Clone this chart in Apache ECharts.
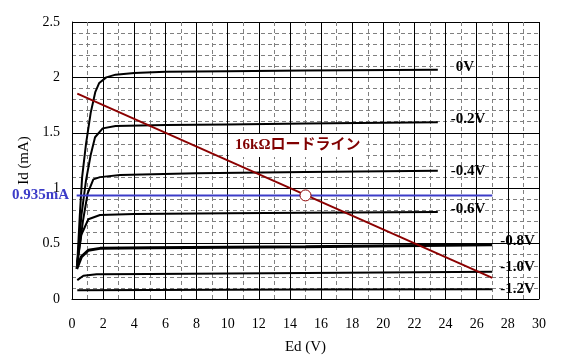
<!DOCTYPE html>
<html>
<head>
<meta charset="utf-8">
<script src="https://cdn.jsdelivr.net/npm/echarts@6/dist/echarts.min.js"></script>
<style>html,body{margin:0;padding:0;background:#fff}#c{width:562px;height:364px}</style>
</head>
<body>
<div id="c"></div>
<script>
// ---- data ----
const curveNames = ['0V', '-0.2V', '-0.4V', '-0.6V', '-0.8V', '-1.0V', '-1.2V'];
const curve0V   = [[0.33,0.3],[0.5,0.75],[0.65,1.1],[0.9,1.4],[1.2,1.68],[1.5,1.87],[1.75,1.95],[2.2,2.0],[2.8,2.025],[4,2.04],[6,2.05],[10,2.055],[15,2.062],[23.5,2.068]];
const curveM02  = [[0.33,0.3],[0.6,0.75],[0.9,1.07],[1.2,1.3],[1.48,1.46],[1.97,1.54],[2.8,1.562],[6,1.57],[10,1.576],[15,1.585],[23.5,1.595]];
const curveM04  = [[0.33,0.3],[0.7,0.7],[1.0,0.95],[1.37,1.08],[1.8,1.10],[3.1,1.12],[8,1.134],[15,1.146],[23.5,1.158]];
const curveM06  = [[0.33,0.33],[0.6,0.58],[1.05,0.72],[1.8,0.758],[4,0.767],[10,0.773],[15,0.779],[23.5,0.785]];
const curveM08  = [[0.3,0.27],[0.6,0.38],[1.05,0.44],[1.8,0.457],[5,0.463],[15,0.472],[27,0.49]];
const curveM10  = [[0.34,0.17],[0.73,0.21],[1.58,0.223],[5,0.226],[15,0.235],[27,0.245]];
const curveM12  = [[0.34,0.08],[5,0.082],[15,0.085],[27,0.088]];
const curves = [curve0V, curveM02, curveM04, curveM06, curveM08, curveM10, curveM12];
const loadLine = [[0.34,1.853],[27,0.19]];
const opCurrent = 0.935;
const opVoltage = 15;
const biasLine = [[0.3,opCurrent],[27,opCurrent]];
const loadLineText = '16kΩロードライン';
const loadLineTextAt = [14.5, 1.385];
const opText = '0.935mA';

// ---- styling ----
const serif = "'Liberation Serif','Times New Roman','Noto Sans CJK JP',serif";
const endOffsets = [[18,-3],[13,-3],[13,0],[13,-3],[8,-4],[8,-5],[8,0]];
const widths = [2,2,2,2,3,2,2];

const series = curves.map((d, i) => ({
  type: 'line', name: curveNames[i], data: d, showSymbol: false, symbol: 'none',
  lineStyle: {color: '#000', width: widths[i]}, z: 3, silent: true, animation: false,
  endLabel: {show: true, formatter: curveNames[i], distance: 0, offset: endOffsets[i],
    color: '#000', fontFamily: serif, fontWeight: 'bold', fontSize: 15}
}));
series.push({
  type: 'line', data: biasLine, showSymbol: false, symbol: 'none', z: 4, animation: false, silent: true,
  lineStyle: {color: '#3c3cc8', width: 2},
  markPoint: {symbol: 'circle', symbolSize: 1, itemStyle: {color: 'rgba(0,0,0,0)'}, animation: false, silent: true,
    data: [{coord: biasLine[0], label: {show: true, position: 'left', distance: 7, formatter: opText,
      color: '#3c3cc8', fontFamily: serif, fontWeight: 'bold', fontSize: 15}}]}
});
series.push({
  type: 'line', data: loadLine, showSymbol: false, symbol: 'none', z: 5, animation: false, silent: true,
  lineStyle: {color: '#8b0000', width: 2},
  markPoint: {symbol: 'rect', symbolSize: 1, itemStyle: {color: 'rgba(0,0,0,0)'}, animation: false, silent: true,
    data: [{coord: loadLineTextAt, label: {show: true, position: 'inside', formatter: loadLineText,
      color: '#800000', fontFamily: serif, fontWeight: 'bold', fontSize: 15,
      backgroundColor: '#fff', padding: [4, 6]}}]}
});
series.push({
  type: 'scatter', data: [[opVoltage, opCurrent]], symbolSize: 11, z: 6, animation: false, silent: true,
  itemStyle: {color: '#fff', borderColor: '#8b0000', borderWidth: 1, opacity: 1}
});

const chart = echarts.init(document.getElementById('c'), null, {renderer: 'canvas'});
chart.setOption({
  animation: false,
  grid: {left: 72, top: 22, right: 23, bottom: 65, containLabel: false},
  xAxis: {
    type: 'value', min: 0, max: 30, interval: 2,
    name: 'Ed (V)', nameLocation: 'middle', nameGap: 41,
    nameTextStyle: {color: '#000', fontFamily: serif, fontSize: 15},
    axisLine: {show: true, lineStyle: {color: '#000', width: 1}},
    axisTick: {show: false},
    axisLabel: {color: '#000', fontFamily: serif, fontSize: 14, margin: 18},
    splitLine: {show: true, lineStyle: {color: '#000', width: 1}},
    minorTick: {show: false, splitNumber: 2},
    minorSplitLine: {show: true, lineStyle: {color: '#808080', width: 1, type: [4, 3]}}
  },
  yAxis: {
    type: 'value', min: 0, max: 2.5, interval: 0.5,
    name: 'Id (mA)', nameLocation: 'middle', nameGap: 37,
    nameTextStyle: {color: '#000', fontFamily: serif, fontSize: 15},
    axisLine: {show: true, lineStyle: {color: '#000', width: 1}},
    axisTick: {show: false},
    axisLabel: {color: '#000', fontFamily: serif, fontSize: 14, margin: 12},
    splitLine: {show: true, lineStyle: {color: '#000', width: 1}},
    minorTick: {show: false, splitNumber: 5},
    minorSplitLine: {show: true, lineStyle: {color: '#808080', width: 1, type: [4, 3]}}
  },
  series: series
});
</script>
</body>
</html>
